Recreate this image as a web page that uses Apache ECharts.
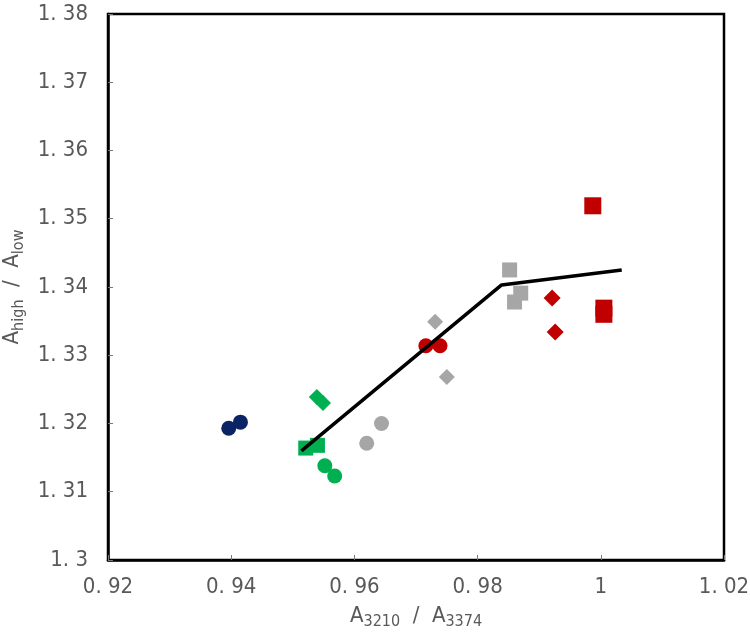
<!DOCTYPE html>
<html>
<head>
<meta charset="utf-8">
<script src="https://cdn.jsdelivr.net/npm/echarts@6/dist/echarts.min.js"></script>
<style>
  html, body { margin: 0; padding: 0; background: #fff; }
  #main { width: 750px; height: 640px; }
</style>
</head>
<body>
<div id="main"></div>
<script>
// data: [A3210/A3374, Ahigh/Alow]
var navyCircles  = [[0.9396, 1.3193], [0.9415, 1.3202]];
var greenDiamonds = [[0.9539, 1.3239], [0.9549, 1.3230]];
var greenSquares = [[0.9521, 1.3164], [0.9540, 1.3168]];
var greenCircles = [[0.9552, 1.3138], [0.9568, 1.3123]];
var grayCircles  = [[0.9620, 1.3171], [0.9644, 1.3200]];
var grayDiamonds = [[0.9731, 1.3349], [0.9750, 1.3268]];
var redCircles   = [[0.9716, 1.3314], [0.9739, 1.3314]];
var graySquares  = [[0.9852, 1.3425], [0.9870, 1.3391], [0.9860, 1.3378]];
var redDiamonds  = [[0.9921, 1.3384], [0.9926, 1.3334]];
var redSquares   = [[0.9987, 1.3519], [1.0005, 1.3369], [1.0005, 1.3360]];
var fitLine      = [[0.9514, 1.3160], [0.9839, 1.3403], [1.0034, 1.3425]];

var navy = '#0b2466', green = '#00b050', gray = '#a6a6a6', red = '#c00000';
var labelFont = '"DejaVu Sans Condensed", "Liberation Sans", sans-serif';

function pts(name, data, symbol, size, color) {
    return {
        name: name, type: 'scatter', data: data,
        symbol: symbol, symbolSize: size,
        itemStyle: { color: color, opacity: 1 },
        z: 2
    };
}
var diamond = 'path://M0,-1L1,0L0,1L-1,0Z';

function tickText(v) {
    return (Math.round(v * 100) / 100).toString().replace('.', '. ');
}

var myChart = echarts.init(document.getElementById('main'));
var option = {
    animation: false,
    grid: {
        left: 108, right: 26, top: 14, bottom: 80,
        outerBoundsMode: 'none',
        containLabel: false,
        show: true, borderColor: '#000', borderWidth: 2.5
    },
    xAxis: {
        type: 'value', min: 0.92, max: 1.02, interval: 0.02,
        name: '{a|A}{s|3210}{a|  /  A}{s|3374}',
        nameLocation: 'middle', nameGap: 42,
        nameTextStyle: {
            rich: {
                a: { fontSize: 22, color: '#595959', fontFamily: labelFont },
                s: { fontSize: 16, color: '#595959', fontFamily: labelFont, padding: [12, 0, 0, 0] }
            }
        },
        axisLine: { show: true, lineStyle: { color: '#000', width: 2.5 } },
        axisTick: { show: true, inside: true, length: 5, lineStyle: { color: '#777' } },
        splitLine: { show: false },
        axisLabel: {
            fontSize: 22, color: '#595959', fontFamily: labelFont, margin: 16,
            formatter: tickText
        }
    },
    yAxis: {
        type: 'value', min: 1.30, max: 1.38, interval: 0.01,
        name: '{a|A}{s|high}{a|  /  A}{s|low}',
        nameLocation: 'middle', nameGap: 70, nameRotate: 90,
        nameTextStyle: {
            rich: {
                a: { fontSize: 22, color: '#595959', fontFamily: labelFont },
                s: { fontSize: 16, color: '#595959', fontFamily: labelFont, padding: [12, 0, 0, 0] }
            }
        },
        axisLine: { show: true, lineStyle: { color: '#000', width: 2.5 } },
        axisTick: { show: true, inside: true, length: 5, lineStyle: { color: '#777' } },
        splitLine: { show: false },
        axisLabel: {
            fontSize: 22, color: '#595959', fontFamily: labelFont, margin: 20,
            formatter: tickText
        }
    },
    series: [
        pts('navy circles', navyCircles, 'circle', 15, navy),
        pts('green diamonds', greenDiamonds, diamond, 16, green),
        pts('green squares', greenSquares, 'rect', 15, green),
        pts('green circles', greenCircles, 'circle', 15, green),
        pts('gray circles', grayCircles, 'circle', 15, gray),
        pts('gray diamonds', grayDiamonds, diamond, 16, gray),
        pts('red circles', redCircles, 'circle', 15, red),
        pts('gray squares', graySquares, 'rect', 15, gray),
        pts('red diamonds', redDiamonds, diamond, 17, red),
        pts('red squares', redSquares, 'rect', 17, red),
        {
            name: 'fit', type: 'line', data: fitLine,
            symbol: 'none', z: 5,
            lineStyle: { color: '#000', width: 3.5 }
        }
    ]
};
myChart.setOption(option);
</script>
</body>
</html>
